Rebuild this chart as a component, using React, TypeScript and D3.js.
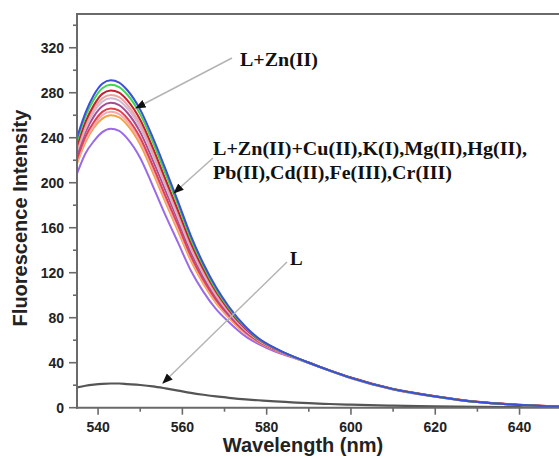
import React from "react";
import * as d3 from "d3";

const wavelengths = [535, 537, 539, 541, 543, 545, 547, 550, 553, 556, 559, 562, 565, 568, 571, 575, 578, 582, 586, 590, 595, 600, 610, 620, 630, 640, 650];

const seriesBlue = [240, 262, 278, 288, 291, 289, 282, 265, 240, 212, 183, 153, 128, 107, 90, 72, 62, 53, 46, 40, 33, 26.5, 16.5, 10, 5, 2.5, 1];
const seriesGreen = [237, 259, 274, 284, 287, 285, 278, 261, 236, 208, 180, 150, 126, 105, 88.7, 71.2, 61.5, 52.8, 46, 40, 33, 26.5, 16.5, 10, 5, 2.5, 1];
const seriesDarkRed = [233, 254, 269, 279, 282, 280, 273, 256, 231, 203, 175, 146.5, 123, 103, 87, 70.2, 60.9, 52.5, 45.8, 40.2, 33.2, 26.8, 16.7, 10.3, 5.2, 2.6, 1];
const seriesPeach = [230, 251, 266, 275, 278, 276, 269, 252, 227, 200, 172, 143.6, 120.5, 101, 85.8, 69.4, 60.4, 52.2, 45.7, 40, 33, 26.5, 16.5, 10, 5, 2.5, 1];
const seriesLilac = [228, 248, 263, 272, 275, 273, 266, 249, 224, 197, 169, 141.5, 118.7, 99.8, 84.9, 68.8, 60.1, 52, 45.7, 39.8, 32.8, 26.3, 16.3, 9.9, 5, 2.5, 1];
const seriesMagenta = [225, 245, 259, 268, 271, 269, 262, 245, 220, 193, 166, 138.6, 116.4, 98, 83.6, 68, 59.6, 51.8, 45.6, 39.8, 32.8, 26.3, 16.3, 9.9, 5, 2.5, 1];
const seriesRed = [221, 241, 254, 263, 266, 264, 257, 240, 215, 188, 162, 135, 113.5, 95.8, 82, 67, 59, 51.5, 45.5, 40, 33, 26.6, 16.6, 10.2, 5.2, 2.6, 1];
const seriesPink = [219, 238, 251, 260, 263, 261, 254, 237, 212, 185, 159, 133, 112, 94.4, 81, 66.4, 58.6, 51.3, 45.4, 39.7, 32.7, 26.2, 16.2, 9.8, 5, 2.5, 1];
const seriesOrange = [217, 236, 249, 257, 260, 258, 251, 234, 209, 182.5, 156.6, 130.7, 110, 93, 80, 65.8, 58.3, 51.1, 45.4, 39.7, 32.7, 26.2, 16.2, 9.8, 5, 2.5, 1];
const seriesViolet = [208, 226, 237, 245, 248, 246, 239, 222, 197, 171, 146.5, 122, 103, 87.6, 76.2, 63.4, 56.8, 50, 44.8, 39.6, 33, 26.6, 16.4, 10, 5, 2.5, 1];
const seriesL = [18, 19.5, 20.5, 21.2, 21.5, 21.5, 21, 20.2, 19, 17.2, 15.2, 13.2, 11.5, 10, 8.8, 7.4, 6.6, 5.6, 4.8, 4, 3.3, 2.7, 1.8, 1.2, 0.8, 0.5, 0.3];

const zincSeries = [
  { name: "Violet", values: seriesViolet, color: "#9b6ae6" },
  { name: "Orange", values: seriesOrange, color: "#f2a444" },
  { name: "Pink", values: seriesPink, color: "#f3aab4" },
  { name: "Red", values: seriesRed, color: "#e3404c" },
  { name: "Magenta", values: seriesMagenta, color: "#a94a94" },
  { name: "Lilac", values: seriesLilac, color: "#cdbad6" },
  { name: "Peach", values: seriesPeach, color: "#f0a29c" },
  { name: "DarkRed", values: seriesDarkRed, color: "#c22230" },
  { name: "Green", values: seriesGreen, color: "#3fd64c" },
  { name: "Blue", values: seriesBlue, color: "#3b4fdc" },
];

const xMajorTicks = [540, 560, 580, 600, 620, 640];
const xMinorTicks = [550, 570, 590, 610, 630, 650];
const yMajorTicks = [0, 40, 80, 120, 160, 200, 240, 280, 320];
const yMinorTicks = [20, 60, 100, 140, 180, 220, 260, 300, 340];

const W = 559;
const H = 459;
const left = 77;
const bottom = 407.7;
const top = 14;
const right = 561.7;

export default function App() {
  const x = d3.scaleLinear().domain([535, 650]).range([left, right]);
  const y = d3.scaleLinear().domain([0, 350]).range([bottom, top]);
  const line = d3
    .line<number>()
    .x((_, i) => x(wavelengths[i]))
    .y((d) => y(d))
    .curve(d3.curveMonotoneX);

  const axisColor = "#6a6a6a";
  const arrowColor = "#b4b4b4";
  const labelFont = "'Liberation Serif', 'Times New Roman', serif";
  const sans = "'Liberation Sans', Arial, sans-serif";

  return (
    <svg
      width={W}
      height={H}
      style={{ position: "absolute", left: 0, top: 0, background: "#fff" }}
    >
      <defs>
        <clipPath id="plot">
          <rect x={left} y={top} width={right - left} height={bottom - top} />
        </clipPath>
        <marker id="ah" viewBox="0 0 10 10" refX="9" refY="5" markerWidth="7" markerHeight="7" orient="auto">
          <path d="M0,1 L10,5 L0,9 Z" fill="#111" />
        </marker>
      </defs>

      <g clipPath="url(#plot)" fill="none" strokeWidth={2}>
        <path d={line(seriesL) || ""} stroke="#555" strokeWidth={2.2} />
        {zincSeries.map((s) => (
          <path key={s.name} d={line(s.values) || ""} stroke={s.color} />
        ))}
      </g>

      {/* frame */}
      <g stroke={axisColor} strokeWidth={2} fill="none">
        <line x1={left} y1={top} x2={left} y2={bottom + 1} />
        <line x1={left - 1} y1={bottom} x2={right} y2={bottom} />
        <line x1={left - 1} y1={top} x2={right} y2={top} />
        <line x1={right - 1} y1={top} x2={right - 1} y2={bottom} />
      </g>

      {/* ticks */}
      <g stroke={axisColor} strokeWidth={1.6}>
        {xMajorTicks.map((t) => (
          <line key={"xM" + t} x1={x(t)} x2={x(t)} y1={bottom} y2={bottom + 7} />
        ))}
        {xMinorTicks.map((t) => (
          <line key={"xm" + t} x1={x(t)} x2={x(t)} y1={bottom} y2={bottom + 4} />
        ))}
        {yMajorTicks.map((t) => (
          <line key={"yM" + t} x1={left - 8} x2={left} y1={y(t)} y2={y(t)} />
        ))}
        {yMinorTicks.map((t) => (
          <line key={"ym" + t} x1={left - 4} x2={left} y1={y(t)} y2={y(t)} />
        ))}
      </g>

      <g fontFamily={sans} fontWeight="bold" fontSize={14} fill="#222">
        {xMajorTicks.map((t) => (
          <text key={"xl" + t} x={x(t)} y={432} textAnchor="middle">
            {t}
          </text>
        ))}
        {yMajorTicks.map((t) => (
          <text key={"yl" + t} x={64} y={y(t) + 5} textAnchor="end">
            {t}
          </text>
        ))}
      </g>

      <text x={303} y={452} textAnchor="middle" fontFamily={sans} fontWeight="bold" fontSize={20} fill="#222">
        Wavelength (nm)
      </text>
      <text
        transform="translate(27,218) rotate(-90)"
        textAnchor="middle"
        fontFamily={sans}
        fontWeight="bold"
        fontSize={20}
        fill="#222"
      >
        Fluorescence Intensity
      </text>

      {/* annotations */}
      <g stroke={arrowColor} strokeWidth={1.5} fill="none">
        <line x1={232} y1={58} x2={136} y2={108} markerEnd="url(#ah)" />
        <line x1={213} y1={158} x2={174} y2={193} markerEnd="url(#ah)" />
        <line x1={287} y1={262} x2={163} y2={383} markerEnd="url(#ah)" />
      </g>
      <g fontFamily={labelFont} fontWeight="bold" fontSize={19} fill="#111">
        <text x={240} y={66} textLength={78} lengthAdjust="spacingAndGlyphs">L+Zn(II)</text>
        <text x={213} y={155} textLength={314} lengthAdjust="spacingAndGlyphs">L+Zn(II)+Cu(II),K(I),Mg(II),Hg(II),</text>
        <text x={213} y={179} textLength={239} lengthAdjust="spacingAndGlyphs">Pb(II),Cd(II),Fe(III),Cr(III)</text>
        <text x={290} y={265}>L</text>
      </g>
    </svg>
  );
}
